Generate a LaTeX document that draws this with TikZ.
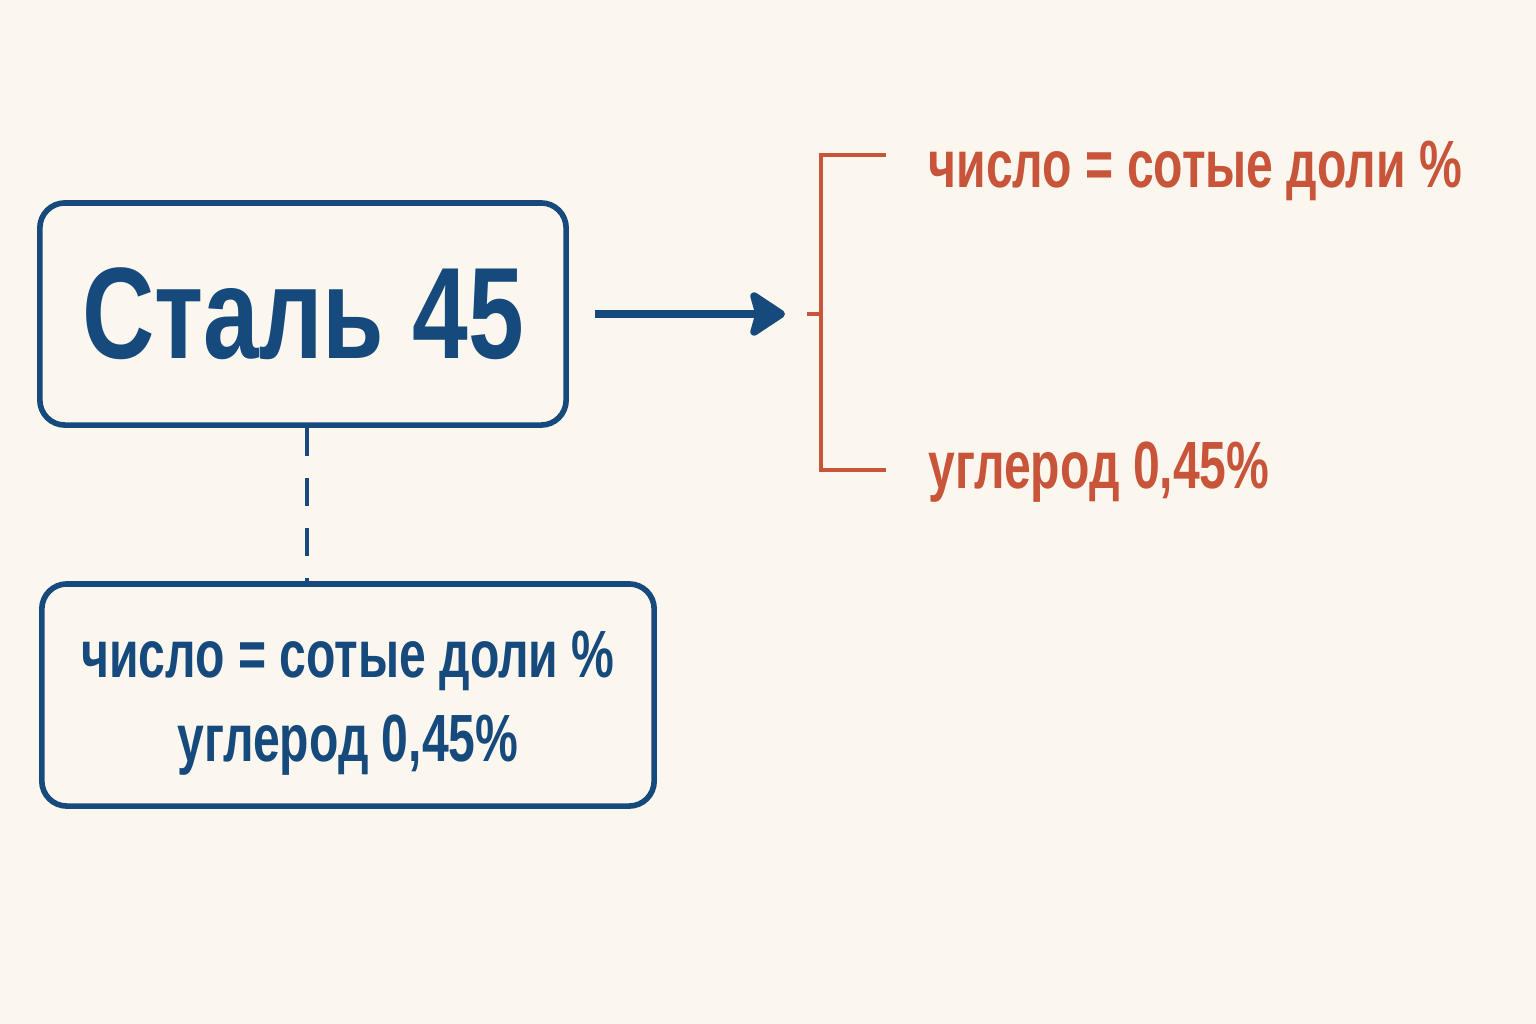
\documentclass[tikz,border=0pt]{standalone}
\usepackage{fontspec}
\setmainfont{Liberation Sans}[FakeStretch=0.77]
\newfontfamily\narrowfont{Liberation Sans}[FakeStretch=0.72]
\usetikzlibrary{arrows.meta}

\definecolor{bgcream}{HTML}{FBF7EF}
\definecolor{steelblue}{HTML}{174A7C}
\definecolor{rustorange}{HTML}{C8553A}

\begin{document}
\begin{tikzpicture}[x=0.01cm, y=-0.01cm,
        box/.style={draw=steelblue, line width=1.6pt, rounded corners=0.25cm,
            inner sep=0pt, text=steelblue, font=\bfseries},
        bracketline/.style={draw=rustorange, line width=1.4pt},
        note/.style={text=rustorange, font=\narrowfont\fontsize{19}{23}\selectfont\bfseries,
            inner sep=0pt, anchor=base west}]

        % Background and picture size
        \useasboundingbox (0, 0) rectangle (1536, 1024);
        \fill[bgcream] (0, 0) rectangle (1536, 1024);

        % Boxes on the left
        \node[box, minimum width=5.26cm, minimum height=2.22cm,
            font=\fontsize{37}{40}\selectfont\bfseries] (steel) at (303, 314) {Сталь 45};
        \node[box, minimum width=6.12cm, minimum height=2.22cm, align=center,
            font=\narrowfont\fontsize{19}{24}\selectfont\bfseries] (info) at (348, 695)
            {\rule{0pt}{18pt}число = сотые доли \%\\углерод 0,45\%};

        % Coordinates of the bracket, top to bottom
        \coordinate (B1) at (886, 155);
        \coordinate (B2) at (821, 155);
        \coordinate (B3) at (821, 470);
        \coordinate (B4) at (886, 470);
        \coordinate (B5) at (807, 314);
        \coordinate (B6) at (821, 314);

        \begin{scope}[bracketline]
            \draw (B1) -- (B2) -- (B3) -- (B4);
            \draw (B5) -- (B6);
        \end{scope}

        \node[note] (num) at (928, 187) {число = сотые доли \%};
        \node[note] (carb) at (928, 488) {углерод 0,45\%};

        % Connectors
        \draw[steelblue, line width=2.2pt,
            -{Stealth[length=0.4cm, width=0.52cm, inset=0.07cm, round]}]
            ([xshift=0.26cm]steel.east) -- ([xshift=-0.22cm]B5);
        \draw[steelblue, line width=1.4pt, dash pattern=on 0.28cm off 0.22cm]
            ([xshift=0.04cm]steel.south) -- ([xshift=0.04cm]steel.south |- info.north);

\end{tikzpicture}
\end{document}
